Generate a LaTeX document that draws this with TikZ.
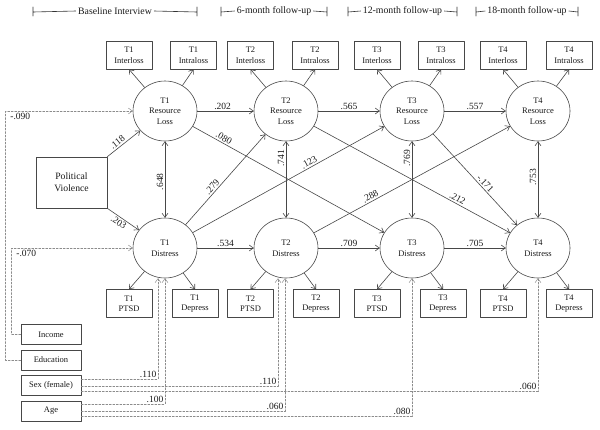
\documentclass[tikz,border=0pt]{standalone}
\usepackage{fontspec}
\setmainfont{Liberation Serif}
\usetikzlibrary{arrows.meta,shapes.geometric}

\begin{document}
\begin{tikzpicture}
% SEM path diagram, drawn on a pixel grid
\def\px{1pt}
\providecommand{\semLineColor}{black!72}
\providecommand{\semCovColor}{black!45}
\providecommand{\semLineWidth}{0.6pt}
\providecommand{\semTip}{Straight Barb[length=4pt,width=6pt]}
\begin{scope}[x=\px, y=-\px, line cap=round, line join=round,
  every node/.style={font=\fontsize{8.5}{10.5}\selectfont, text=black!90},
  latent/.style={ellipse, draw=\semLineColor, line width=\semLineWidth, minimum width=64pt, minimum height=60pt, inner sep=0pt, align=center},
  obs/.style={rectangle, draw=\semLineColor, line width=\semLineWidth, minimum width=46pt, minimum height=28pt, inner sep=1pt, align=center},
  cov/.style={obs, minimum width=60pt, minimum height=20pt},
  coef/.style={font=\fontsize{9.5}{11}\selectfont, inner sep=1.5pt},
  semarrow/.style={draw=\semLineColor, line width=\semLineWidth, -{\semTip}},
  semdouble/.style={draw=\semLineColor, line width=\semLineWidth, {\semTip}-{\semTip}},
  covarrow/.style={draw=\semCovColor, line width=0.5pt, dash pattern=on 2pt off 1.5pt, -{\semTip}},
  hdrline/.style={draw=black!80, line width=0.6pt}]
  \useasboundingbox (0,0) rectangle (600,429);
  % Header with the waves
  \foreach \xa/\xb/\nm/\lbl in {33/197/hb/Baseline Interview, 221/327/hsix/6-month follow-up, 348/457/htwelve/12-month follow-up, 476/578/heighteen/18-month follow-up} {
    \node[font=\fontsize{9.8}{11}\selectfont, inner sep=2pt] (\nm) at ({(\xa+\xb)/2},11) {\lbl};
    \draw[hdrline] (\xa,12) -- (\nm.west) (\nm.east) -- (\xb,12) (\xa,7) -- (\xa,16) (\xb,7) -- (\xb,16);
  }
  % Latent factors
  \foreach \i/\x in {1/165, 2/286, 3/412, 4/538} {
    \node[latent] (rl\i) at (\x,111) {T\i\\Resource\\Loss};
    \node[latent] (d\i) at (\x,248) {T\i\\Distress};
  }
  % Indicators
  \foreach \i/\xa/\xb in {1/129/193.5, 2/250.5/315, 3/377/441, 4/503/569} {
    \node[obs] (inter\i) at (\xa,55) {T\i\\Interloss};
    \node[obs] (intra\i) at (\xb,55) {T\i\\Intraloss};
    \draw[semarrow] (rl\i) -- (inter\i.south);
    \draw[semarrow] (rl\i) -- (intra\i.south);
  }
  \foreach \i/\xa/\xb in {1/129/195, 2/250.5/316, 3/377/443, 4/503/569} {
    \node[obs] (ptsd\i) at (\xa,303.5) {T\i\\PTSD};
    \node[obs] (dep\i) at (\xb,303.5) {T\i\\Depress};
    \draw[semarrow] (d\i) -- (ptsd\i.north);
    \draw[semarrow] (d\i) -- (dep\i.north);
  }
  % Exogenous variables
  \node[obs, minimum width=71pt, minimum height=51pt, font=\fontsize{9.7}{12}\selectfont] (pv) at (71.5,182.5) {Political\\Violence};
  \node[cov] (inc) at (51,334.5) {Income};
  \node[cov] (edu) at (51,360) {Education};
  \node[cov] (sex) at (51,385.5) {Sex (female)};
  \node[cov] (age) at (51,411) {Age};
  % Structural paths
  \draw[semarrow] (pv.north east) -- node[coef, sloped, above, pos=.4] {.118} (rl1);
  \draw[semarrow] (pv.south east) -- node[coef, sloped, below, pos=.45] {.203} (d1);
  \draw[semarrow] (rl1) -- node[coef, above, pos=.45] {.202} (rl2);
  \draw[semarrow] (rl2) -- node[coef, above] {.565} (rl3);
  \draw[semarrow] (rl3) -- node[coef, above] {.557} (rl4);
  \draw[semarrow] (d1) -- node[coef, above] {.534} (d2);
  \draw[semarrow] (d2) -- node[coef, above] {.709} (d3);
  \draw[semarrow] (d3) -- node[coef, above] {.705} (d4);
  \draw[semdouble] (d1) -- node[coef, sloped, above, pos=.47] {.648} (rl1);
  \draw[semdouble] (d2) -- node[coef, sloped, above, pos=.78] {.741} (rl2);
  \draw[semdouble] (d3) -- node[coef, sloped, above, pos=.78] {.769} (rl3);
  \draw[semdouble] (d4) -- node[coef, sloped, above, pos=.53] {.753} (rl4);
  % Cross-lagged paths
  \draw[semarrow] (rl1) -- node[coef, sloped, above, pos=.15] {.080} (d3);
  \draw[semarrow] (d1) -- node[coef, sloped, above, pos=.38] {.279} (rl2);
  \draw[semarrow] (d1) -- node[coef, sloped, above, pos=.62] {.123} (rl3);
  \draw[semarrow] (rl2) -- node[coef, sloped, above, pos=.72] {.212} (d4);
  \draw[semarrow] (d2) -- node[coef, sloped, above, pos=.3] {.288} (rl4);
  \draw[semarrow] (rl3) -- node[coef, sloped, above, pos=.58] {-.171} (d4);
  % Covariates
  \draw[covarrow] (edu.west) -- ++(-15,0) |- node[coef, pos=.5, anchor=north west, xshift=3pt] {-.090} (rl1);
  \draw[covarrow] (inc.west) -- ++(-9,0) |- node[coef, pos=.5, anchor=north west, xshift=3pt] {-.070} (d1);
  \draw[covarrow] ([yshift=6.5pt]sex.east) -| node[coef, pos=.5, anchor=south east] {.110} ([xshift=-7pt]d1.south);
  \draw[covarrow] ([yshift=-0.5pt]sex.east) -| node[coef, pos=.5, anchor=south east] {.110} ([xshift=-8pt]d2.south);
  \draw[covarrow] ([yshift=-5.5pt]sex.east) -| node[coef, pos=.5, anchor=south east] {.060} (d4.south);
  \draw[covarrow] ([yshift=7pt]age.east) -| node[coef, pos=.5, anchor=south east] {.100} (d1.south);
  \draw[covarrow] (age.east) -| node[coef, pos=.5, anchor=south east] {.060} ([xshift=-1pt]d2.south);
  \draw[covarrow] ([yshift=-5pt]age.east) -| node[coef, pos=.5, anchor=south east] {.080} (d3.south);
\end{scope}
\end{tikzpicture}
\end{document}
